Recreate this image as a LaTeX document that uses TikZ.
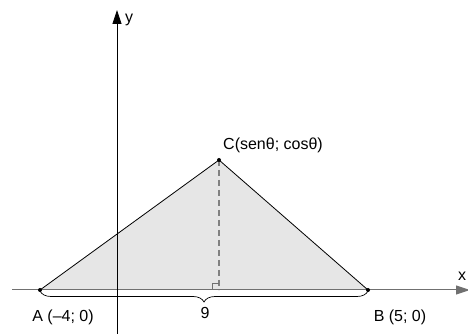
\documentclass[tikz,border=0pt]{standalone}
\usepackage{fontspec}
\setmainfont{Liberation Sans}
\usetikzlibrary{decorations.pathreplacing,arrows.meta}
\definecolor{fillgray}{HTML}{E6E6E6}
\definecolor{axisgray}{HTML}{707070}
\definecolor{dashgray}{HTML}{808080}
\begin{document}
\begin{tikzpicture}[x=1pt,y=1pt,
  lbl/.style={font=\fontsize{16}{18}\selectfont, inner sep=0pt},
  dot/.style={circle, fill=black, inner sep=0pt, minimum size=4pt},
  axisarrow/.style={-{Triangle[length=14pt,width=9pt]}}]
\useasboundingbox (0,0) rectangle (468,334);
\coordinate (A) at (40,44);
\coordinate (B) at (368,44);
\coordinate (C) at (219,174);
\coordinate (H) at (219,44);
\fill[fillgray] (A) -- (C) -- (B) -- cycle;
\coordinate (xs) at (12,44);
\coordinate (xe) at (470,44);
\coordinate (ys) at (117,0);
\coordinate (ye) at (117,324);
\draw[axisgray, line width=1pt, axisarrow] (xs) -- (xe);
\draw[black, line width=0.8pt, axisarrow] (ys) -- (ye);
\draw[line width=0.8pt] (A) -- (C) -- (B);
\draw[dashgray, line width=1.3pt, dash pattern=on 6pt off 4pt] (C) -- (H);
\draw[axisgray, line width=0.7pt] (212,44) -- (212,51) -- (219,51);
\node[dot] (a) at (A) {};
\node[dot] (b) at (B) {};
\node[dot] (c) at (C) {};
\draw[line width=0.7pt, decorate, decoration={brace, mirror, amplitude=11pt}] (40,43) -- (368,43);
\node[lbl] (nine) at (205,21) {9};
\node[lbl] (la) at (63,17) {A (–4; 0)};
\node[lbl] (lb) at (400,17) {B (5; 0)};
\node[lbl] (lc) at (273,189) {C(senθ; cosθ)};
\node[lbl] (ly) at (129,314) {y};
\node[lbl] (lx) at (462,58) {x};
\end{tikzpicture}
\end{document}
